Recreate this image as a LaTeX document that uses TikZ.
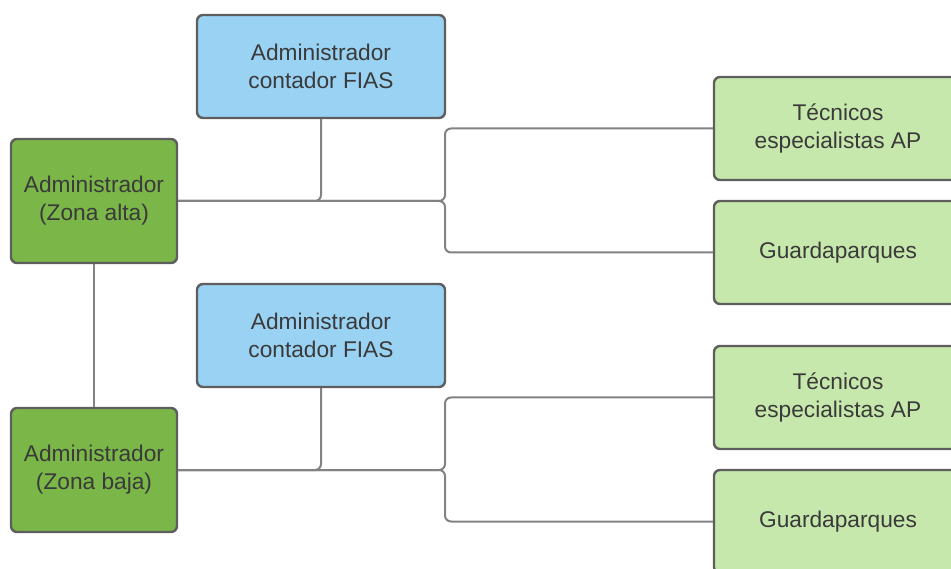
\documentclass[tikz,border=0pt]{standalone}
\usepackage{fontspec}
\setmainfont{Liberation Sans}
\definecolor{bluefill}{HTML}{99D2F3}
\definecolor{darkgreen}{HTML}{7AB648}
\definecolor{lightgreen}{HTML}{C7E8AC}
\definecolor{boxborder}{HTML}{5E5E5E}
\definecolor{linecol}{HTML}{828282}
\definecolor{txt}{HTML}{3A3A3A}
\begin{document}
\begin{tikzpicture}[x=1pt,y=-1pt,
  box/.style={draw=boxborder, line width=2.4pt, rounded corners=6pt, align=center,
    text=txt, font=\fontsize{22.7}{28}\selectfont, inner sep=0pt},
  bluebox/.style={box, fill=bluefill, minimum width=248pt, minimum height=103pt},
  leftbox/.style={box, fill=darkgreen, minimum width=166pt, minimum height=124pt},
  rightbox/.style={box, fill=lightgreen, minimum width=248pt, minimum height=103pt},
  conn/.style={draw=linecol, line width=2pt, rounded corners=6pt}]
\useasboundingbox (0,0) rectangle (951,569);
\clip (0,0) rectangle (951,569);
% top group
\node[bluebox] (b1) at (321,66.5) {Administrador\\contador FIAS};
\node[leftbox] (l1) at (94,201) {Administrador\\(Zona alta)};
\node[rightbox] (t1) at (838,128.5) {Técnicos\\especialistas AP};
\node[rightbox] (g1) at (838,252.5) {Guardaparques};
% bottom group
\node[bluebox] (b2) at (321,335.5) {Administrador\\contador FIAS};
\node[leftbox] (l2) at (94,470) {Administrador\\(Zona baja)};
\node[rightbox] (t2) at (838,397.5) {Técnicos\\especialistas AP};
\node[rightbox] (g2) at (838,521.5) {Guardaparques};
% connectors top
\draw[conn] (b1.south) -- (b1.south |- l1.east) -- (l1.east);
\draw[conn] (l1.east) -- (445,201) -- (445,128.5) -- (t1.west);
\draw[conn] (l1.east) -- (445,201) -- (445,252.5) -- (g1.west);
% connectors bottom
\draw[conn] (b2.south) -- (b2.south |- l2.east) -- (l2.east);
\draw[conn] (l2.east) -- (445,470) -- (445,397.5) -- (t2.west);
\draw[conn] (l2.east) -- (445,470) -- (445,521.5) -- (g2.west);
% vertical link
\draw[conn] (l1.south) -- (l2.north);
\end{tikzpicture}
\end{document}
